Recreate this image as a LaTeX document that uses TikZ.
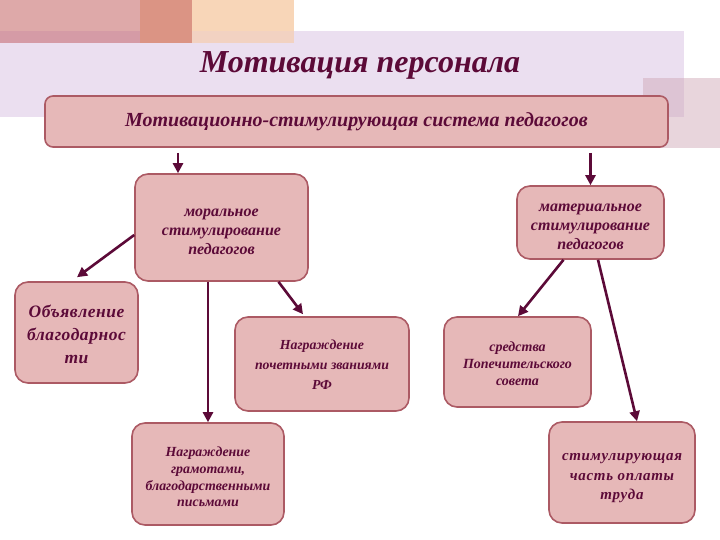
\documentclass[tikz,border=0pt]{standalone}
\usepackage{fontspec}
\setmainfont{Liberation Serif}
\usetikzlibrary{arrows.meta,calc}
\definecolor{lav}{HTML}{EBDFF0}
\definecolor{sqc}{HTML}{CCA4B2}
\definecolor{pinkblk}{HTML}{DEA9A9}
\definecolor{pinkov}{HTML}{D59BA6}
\definecolor{salmon}{HTML}{DB9484}
\definecolor{peach}{HTML}{F8D6B8}
\definecolor{peachov}{HTML}{F2D2C2}
\definecolor{boxfill}{HTML}{E6B8B8}
\definecolor{boxline}{HTML}{AC5A64}
\definecolor{ink}{HTML}{5C0A38}
\tikzset{
  box/.style={draw=boxline, line width=1.6pt, fill=boxfill, rounded corners=13pt, inner sep=0pt},
  txt/.style={text=ink, align=center, inner sep=0pt},
  arr/.style={draw=ink, line width=2.6pt, -{Triangle[length=10pt,width=10pt]}},
}
\begin{document}
\begin{tikzpicture}[x=1pt,y=-1pt]
\useasboundingbox (0,0) rectangle (720,540);
\fill[white] (0,0) rectangle (720,540);
% background decoration
\fill[lav] (0,31) rectangle (684,117);
\fill[sqc,opacity=0.45] (643,78) rectangle (720,148);
\fill[pinkblk] (0,0) rectangle (140,31);
\fill[pinkov] (0,31) rectangle (140,43);
\fill[salmon] (140,0) rectangle (192,43);
\fill[peach] (192,0) rectangle (294,31);
\fill[peachov] (192,31) rectangle (294,43);
% title
\node[txt, anchor=base, font=\fontsize{32}{34}\selectfont\bfseries\itshape] (title) at (360,73) {Мотивация персонала};
% boxes
\node[box, rounded corners=8pt, minimum width=623pt, minimum height=51pt] (main) at (356.5,121.5) {};
\node[txt, font=\fontsize{20}{22}\selectfont\bfseries\itshape] (main-t) at (main) {Мотивационно-стимулирующая система педагогов};

\node[box, minimum width=173pt, minimum height=107pt] (moral) at (221.5,227.5) {};
\node[txt, font=\fontsize{16}{19}\selectfont\bfseries\itshape] (moral-t) at ($(moral)+(0,4)$)
  {моральное\\стимулирование\\педагогов};

\node[box, minimum width=123pt, minimum height=101pt] (obyav) at (76.5,332.5) {};
\node[txt, font=\fontsize{17.5}{23}\selectfont\bfseries\itshape\addfontfeature{LetterSpace=3}] (obyav-t) at ($(obyav)+(0,2)$)
  {Объявление\\благодарнос\\ти};

\node[box, minimum width=174pt, minimum height=94pt] (nagr) at (322,364) {};
\node[txt, font=\fontsize{13.8}{20}\selectfont\bfseries\itshape] (nagr-t) at ($(nagr)+(0,1)$)
  {Награждение\\почетными званиями\\РФ};

\node[box, minimum width=147pt, minimum height=90pt] (sredstva) at (517.5,362) {};
\node[txt, font=\fontsize{14}{17}\selectfont\bfseries\itshape] (sredstva-t) at ($(sredstva)+(0,2)$)
  {средства\\Попечительского\\совета};

\node[box, minimum width=147pt, minimum height=73pt] (mater) at (590.5,222.5) {};
\node[txt, font=\fontsize{16}{19}\selectfont\bfseries\itshape] (mater-t) at ($(mater)+(0,4)$)
  {материальное\\стимулирование\\педагогов};

\node[box, minimum width=152pt, minimum height=102pt] (gramot) at (208,474) {};
\node[txt, font=\fontsize{13.9}{16.7}\selectfont\bfseries\itshape] (gramot-t) at ($(gramot)+(0,3)$)
  {Награждение\\грамотами,\\благодарственными\\письмами};

\node[box, minimum width=146pt, minimum height=101pt] (stim) at (622,472.5) {};
\node[txt, font=\fontsize{15}{19.5}\selectfont\bfseries\itshape\addfontfeature{LetterSpace=4.5}] (stim-t) at ($(stim)+(0,6)$)
  {стимулирующая\\часть оплаты\\труда};
% connectors
\coordinate (a1) at ($(moral.north)+(-43.5,0)$);
\coordinate (a0) at (a1 |- main.south);
\coordinate (b0) at (mater.north |- main.south);
\draw[arr, shorten <=5pt] (a0) -- (a1);
\draw[arr, shorten <=5pt] (b0) -- (mater.north);
\draw[arr] ($(moral.west)+(0,7.5)$) -- ($(obyav.north)+(0.5,-4)$);
\draw[arr] ($(moral.south)+(-13.5,0)$) -- (gramot.north);
\draw[arr] ($(moral.south)+(57,0)$) -- ($(nagr.north)+(-19,-2)$);
\draw[arr] ($(mater.south)+(-27,0)$) -- ($(sredstva.north)+(0.5,0)$);
\draw[arr] ($(mater.south)+(7.5,0)$) -- ($(stim.north)+(15,0)$);
\end{tikzpicture}
\end{document}
